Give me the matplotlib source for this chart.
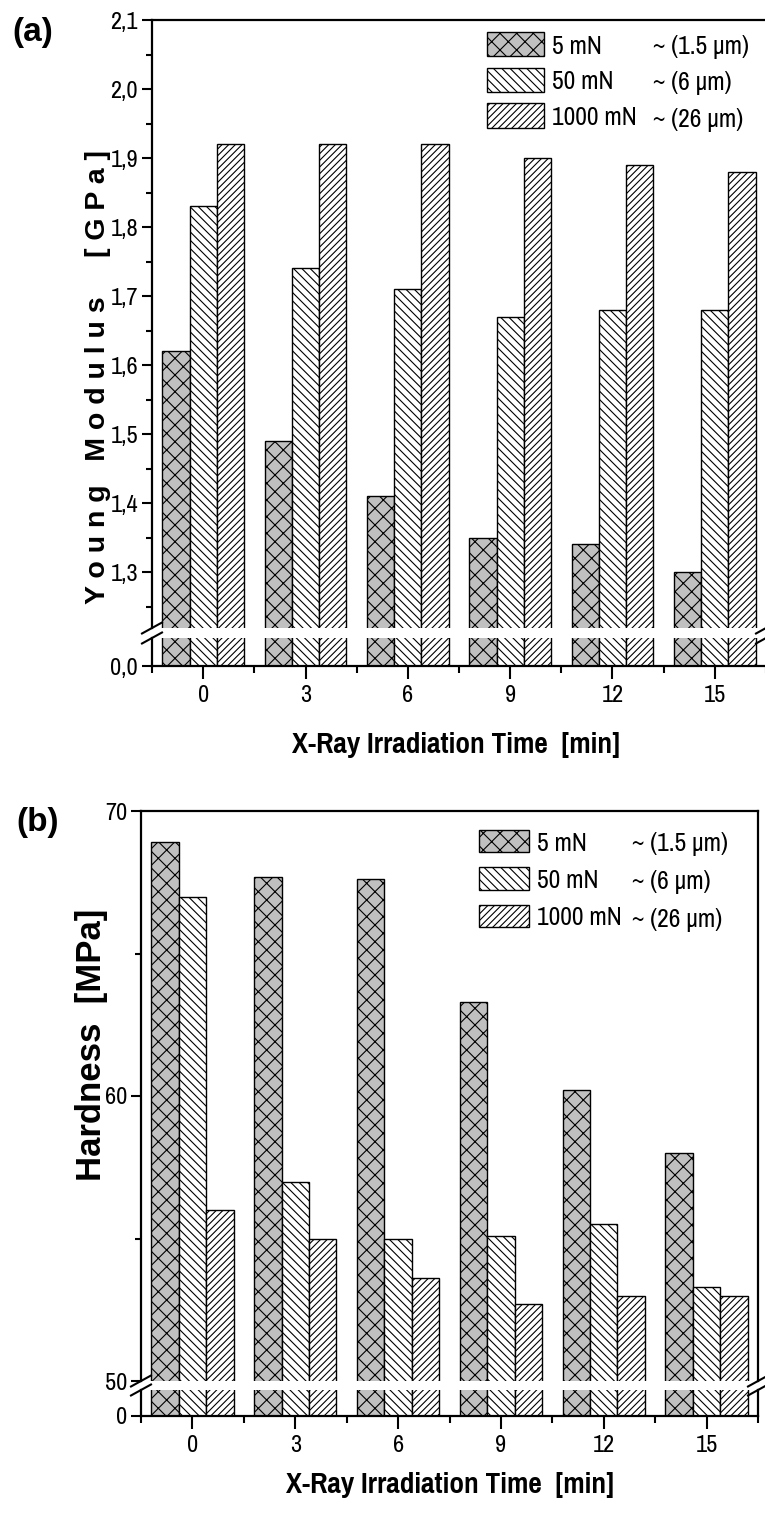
import matplotlib
matplotlib.use('Agg')
import matplotlib.pyplot as plt
from matplotlib.ticker import MultipleLocator, FuncFormatter

NARROW = ['Pragati Narrow', 'PT Sans Narrow', 'Liberation Sans', 'DejaVu Sans']
WIDE = ['Liberation Sans', 'DejaVu Sans']
plt.rcParams['font.family'] = NARROW
plt.rcParams['hatch.linewidth'] = 0.8
plt.rcParams['hatch.color'] = 'black'

# data
times = [0, 3, 6, 9, 12, 15]
loads = ['5 mN', '50 mN', '1000 mN']
depths = ['~ (1.5 \u03bcm)', '~ (6 \u03bcm)', '~ (26 \u03bcm)']
young_5 = [1.62, 1.49, 1.41, 1.35, 1.34, 1.30]
young_50 = [1.83, 1.74, 1.71, 1.67, 1.68, 1.68]
young_1000 = [1.92, 1.92, 1.92, 1.90, 1.89, 1.88]
hard_5 = [68.9, 67.7, 67.6, 63.3, 60.2, 58.0]
hard_50 = [67.0, 57.0, 55.0, 55.1, 55.5, 53.3]
hard_1000 = [56.0, 55.0, 53.6, 52.7, 53.0, 53.0]

faces = ['#c0c0c0', 'white', 'white']
hatches = ['xx', '\\\\\\\\', '/////']
offsets = [-0.8, 0, 0.8]
width = 0.8

W, H = 765, 1513
fig = plt.figure(figsize=(W / 100, H / 100), dpi=100)


def fx(px):
    return px / W


def fy(py):
    return 1 - py / H


def rect(left, right, top, bottom):
    return [fx(left), fy(bottom), fx(right) - fx(left), fy(top) - fy(bottom)]


def draw_bars(ax, series):
    handles = []
    for vals, off, fc, ht, lab in zip(series, offsets, faces, hatches, loads):
        b = ax.bar([t + off for t in times], vals, width, color=fc, hatch=ht,
                   edgecolor='black', linewidth=1.0, label=lab)
        handles.append(b)
    return handles


def style(ax_top, ax_bot, right_spine):
    for ax in (ax_top, ax_bot):
        ax.set_xlim(-1.5, 16.5)
        for s in ax.spines.values():
            s.set_linewidth(1.6)
        ax.spines['right'].set_visible(right_spine)
        ax.tick_params(axis='y', which='major', direction='out', length=7, width=1.5,
                       labelsize=19, pad=3, right=False)
        ax.tick_params(axis='y', which='minor', direction='out', length=4, width=1.5, right=False)
    ax_top.spines['bottom'].set_visible(False)
    ax_top.tick_params(axis='x', which='both', bottom=False, labelbottom=False, top=False)
    ax_bot.spines['top'].set_visible(False)
    ax_bot.set_xticks(times)
    ax_bot.set_xticks([t + 1.5 for t in [-3] + times], minor=True)
    ax_bot.tick_params(axis='x', which='major', direction='out', length=9, width=1.5,
                       labelsize=19, pad=5)
    ax_bot.tick_params(axis='x', which='minor', direction='out', length=5, width=1.5)


def break_marks(xs, ys):
    for x in xs:
        for y in ys:
            fig.add_artist(plt.Line2D([fx(x - 10), fx(x + 10)], [fy(y + 5.5), fy(y - 5.5)],
                                      transform=fig.transFigure, color='black', lw=1.5))


def legend_pair(ax, handles, x_patch, x_tilde, y_top, fs, hl, hh, ls):
    leg1 = ax.legend(handles, loads, loc='upper left', bbox_to_anchor=(fx(x_patch), fy(y_top)),
                     bbox_transform=fig.transFigure, frameon=False, fontsize=fs,
                     handlelength=hl, handleheight=hh, handletextpad=0.29,
                     labelspacing=ls, borderpad=0, borderaxespad=0)
    ax.add_artist(leg1)
    blanks = [plt.Rectangle((0, 0), 1, 1, fill=False, edgecolor='none') for _ in depths]
    ax.legend(blanks, depths, loc='upper left', bbox_to_anchor=(fx(x_tilde), fy(y_top)),
              bbox_transform=fig.transFigure, frameon=False, fontsize=fs,
              handlelength=0, handleheight=hh, handletextpad=0,
              labelspacing=ls, borderpad=0, borderaxespad=0)


comma = FuncFormatter(lambda v, p: f'{v:.1f}'.replace('.', ','))

# ---- panel (a) ----
a_top = fig.add_axes(rect(152, 766, 20, 628))
a_bot = fig.add_axes(rect(152, 766, 638, 666))
ha = draw_bars(a_top, [young_5, young_50, young_1000])
draw_bars(a_bot, [young_5, young_50, young_1000])
a_top.set_ylim(1.219, 2.1)
a_bot.set_ylim(0, 0.04)
a_top.yaxis.set_major_locator(MultipleLocator(0.1))
a_top.yaxis.set_minor_locator(MultipleLocator(0.05))
a_top.yaxis.set_major_formatter(comma)
a_bot.set_yticks([0])
a_bot.yaxis.set_major_formatter(comma)
style(a_top, a_bot, False)
break_marks([152, 766], [628, 638])
legend_pair(a_top, ha, 487, 653, 32, 20, 2.05, 0.97, 0.36)

fig.text(fx(12), fy(32), '(a)', fontsize=24, fontweight='bold', family=WIDE,
         ha='left', va='center')
fig.text(fx(98), fy(377), 'Y o u n g   M o d u l u s     [ G P a ]', rotation=90,
         fontsize=20.5, fontweight='bold', family=WIDE, ha='center', va='center')
fig.text(fx(456), fy(745), 'X-Ray Irradiation Time  [min]', fontsize=23, fontweight='bold',
         ha='center', va='center')

# ---- panel (b) ----
b_top = fig.add_axes(rect(141, 758, 811, 1381))
b_bot = fig.add_axes(rect(141, 758, 1390, 1416))
hb = draw_bars(b_top, [hard_5, hard_50, hard_1000])
draw_bars(b_bot, [hard_5, hard_50, hard_1000])
b_top.set_ylim(50, 70)
b_bot.set_ylim(0, 1)
b_top.yaxis.set_major_locator(MultipleLocator(10))
b_top.yaxis.set_minor_locator(MultipleLocator(5))
b_bot.set_yticks([0])
style(b_top, b_bot, True)
break_marks([141, 758], [1381, 1390])
legend_pair(b_top, hb, 479, 632, 830, 20, 1.8, 0.86, 0.45)

fig.text(fx(16), fy(822), '(b)', fontsize=24, fontweight='bold', family=WIDE,
         ha='left', va='center')
fig.text(fx(91), fy(1045), 'Hardness  [MPa]', rotation=90, fontsize=25, fontweight='bold',
         family=WIDE, ha='center', va='center')
fig.text(fx(450), fy(1485), 'X-Ray Irradiation Time  [min]', fontsize=23, fontweight='bold',
         ha='center', va='center')

fig.savefig('out.png', dpi=100)
